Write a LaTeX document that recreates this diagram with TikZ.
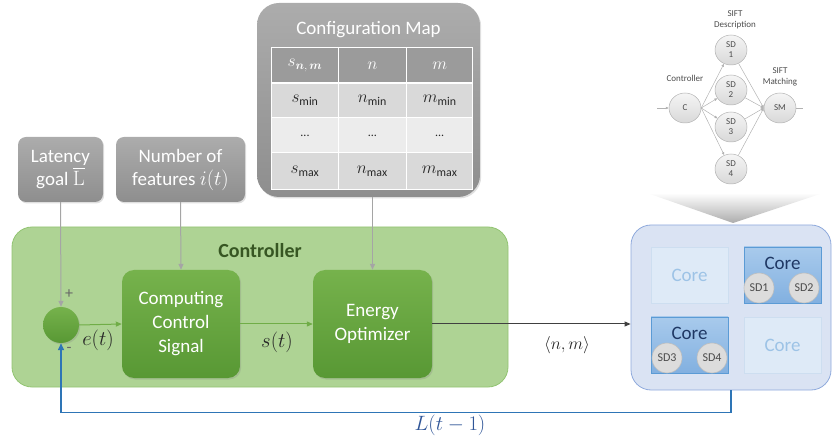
\documentclass[tikz,border=0pt]{standalone}
\usepackage[no-math]{fontspec}
\setmainfont{Carlito}
\usepackage{amsmath,bm}
\usetikzlibrary{shapes.geometric,arrows.meta,shadows}

\definecolor{grayA}{RGB}{172,172,172}
\definecolor{grayB}{RGB}{142,142,142}
\definecolor{hdrgray}{RGB}{155,155,155}
\definecolor{rowA}{RGB}{217,217,217}
\definecolor{rowB}{RGB}{236,236,236}
\definecolor{ctrlfill}{RGB}{174,211,148}
\definecolor{ctrldraw}{RGB}{146,196,114}
\definecolor{ctrltitle}{RGB}{55,86,35}
\definecolor{greenA}{RGB}{118,178,76}
\definecolor{greenB}{RGB}{88,152,52}
\definecolor{greenline}{RGB}{112,173,71}
\definecolor{linegray}{RGB}{165,165,165}
\definecolor{corefill}{RGB}{218,227,243}
\definecolor{coredraw}{RGB}{143,170,220}
\definecolor{faintfill}{RGB}{222,234,247}
\definecolor{faintdraw}{RGB}{205,222,240}
\definecolor{fainttext}{RGB}{157,195,230}
\definecolor{actA}{RGB}{168,202,236}
\definecolor{actB}{RGB}{130,176,224}
\definecolor{actdraw}{RGB}{91,155,213}
\definecolor{acttext}{RGB}{31,56,100}
\definecolor{sdfill}{RGB}{220,220,220}
\definecolor{sddraw}{RGB}{190,190,190}
\definecolor{fbblue}{RGB}{46,117,182}
\definecolor{fbtext}{RGB}{47,85,151}

\begin{document}
\begin{tikzpicture}[x=1pt,y=-1pt,
  softshadow/.style={drop shadow={opacity=0.25,shadow xshift=1.2pt,shadow yshift=-1.5pt}},
  graybox/.style={rounded corners=8pt, top color=grayA, bottom color=grayB, draw=none,
    text=white, align=center, inner sep=0pt, softshadow,
    font=\fontsize{19}{23}\selectfont},
  cfgbox/.style={rounded corners=22pt, top color=grayA, bottom color=grayB, draw=none,
    inner sep=0pt, softshadow},
  cell/.style={font=\fontsize{17}{19}\selectfont, text=black!85, inner sep=0pt},
  hcell/.style={font=\fontsize{17}{19}\selectfont, text=white, inner sep=0pt},
  ctrlbox/.style={rounded corners=20pt, fill=ctrlfill, draw=ctrldraw, line width=0.8pt, inner sep=0pt},
  greenbox/.style={rounded corners=12pt, top color=greenA, bottom color=greenB, draw=none,
    text=white, align=center, inner sep=0pt, softshadow,
    font=\fontsize{19}{24}\selectfont},
  sumnode/.style={circle, minimum size=36pt, top color=greenA, bottom color=greenB, draw=none, softshadow, inner sep=0pt},
  corebox/.style={rounded corners=20pt, fill=corefill, draw=coredraw, line width=0.8pt, inner sep=0pt},
  corefaint/.style={fill=faintfill, draw=faintdraw, line width=0.6pt, text=fainttext,
    minimum width=77pt, minimum height=56pt, inner sep=0pt, font=\fontsize{19}{23}\selectfont},
  coreact/.style={top color=actA, bottom color=actB, draw=actdraw, line width=0.7pt,
    minimum width=77pt, minimum height=56pt, inner sep=0pt},
  coretext/.style={text=acttext, font=\fontsize{19}{23}\selectfont, inner sep=0pt},
  sdnode/.style={circle, minimum size=30pt, fill=sdfill, draw=sddraw, line width=0.6pt,
    text=black!70, font=\fontsize{12}{14}\selectfont, inner sep=0pt},
  siftnode/.style={ellipse, minimum width=32pt, minimum height=30pt, top color=gray!8, bottom color=gray!30,
    draw=gray!60, line width=0.5pt, text=black!70, align=center, inner sep=0pt,
    font=\fontsize{9}{10}\selectfont},
  siftlabel/.style={text=black!70, align=center, inner sep=0pt, font=\fontsize{9}{10.5}\selectfont},
  siftedge/.style={draw=gray!60, line width=0.5pt, -{Triangle[length=3pt,width=2.5pt]}},
  inarrow/.style={draw=linegray, line width=1pt, -{Triangle[length=6pt,width=5pt]}},
  greenarrow/.style={draw=greenline, line width=1pt, -{Triangle[length=6pt,width=5pt]}},
  darkarrow/.style={draw=black!75, line width=1pt, -{Triangle[length=6pt,width=5pt]}},
  fbarrow/.style={draw=fbblue, line width=1.3pt, -{Triangle[length=7pt,width=6pt]}},
  mathlabel/.style={font=\fontsize{21}{25}\selectfont, text=black!85, inner sep=0pt},
  signlabel/.style={text=black!60, inner sep=0pt, font=\fontsize{16}{18}\selectfont},
]
\useasboundingbox (0,0) rectangle (832,443);

% ---- inputs: latency goal and number of features
\node[graybox, minimum width=85pt, minimum height=65pt] (lat) at (60.5,169.5)
  {Latency\\goal {\fontsize{21}{23}\selectfont$\overline{\mathrm{L}}$}};
\node[graybox, minimum width=129pt, minimum height=65pt] (feat) at (180.5,169.5)
  {Number of\\features {\fontsize{21}{23}\selectfont$i(t)$}};

% ---- configuration map with its table
\node[cfgbox, minimum width=223pt, minimum height=194pt] (cfg) at (368.5,100) {};
\node[text=white, inner sep=0pt, font=\fontsize{19}{23}\selectfont] (cfgtitle) at (368.5,30) {Configuration Map};
\fill[hdrgray] (271.7,47.7) rectangle (472.7,83);
\fill[rowA] (271.7,83) rectangle (472.7,118);
\fill[rowB] (271.7,118) rectangle (472.7,153);
\fill[rowA] (271.7,153) rectangle (472.7,190);
\draw[white, line width=1pt] (271.7,47.7) rectangle (472.7,190);
\draw[white, line width=2pt] (271.7,83) -- (472.7,83);
\draw[white, line width=1pt] (271.7,118) -- (472.7,118) (271.7,153) -- (472.7,153)
  (338,47.7) -- (338,190) (406.7,47.7) -- (406.7,190);
\node[hcell] (h1) at (305,65.5) {$s_{\bm{n},\,\bm{m}}$};
\node[hcell] (h2) at (372.3,65.5) {$n$};
\node[hcell] (h3) at (439.7,65.5) {$m$};
\node[cell] (r11) at (305,100.5) {$s_{\text{min}}$};
\node[cell] (r12) at (372.3,100.5) {$n_{\text{min}}$};
\node[cell] (r13) at (439.7,100.5) {$m_{\text{min}}$};
\node[cell] (r21) at (305,135.5) {\fontsize{12}{14}\selectfont ...};
\node[cell] (r22) at (372.3,135.5) {\fontsize{12}{14}\selectfont ...};
\node[cell] (r23) at (439.7,135.5) {\fontsize{12}{14}\selectfont ...};
\node[cell] (r31) at (305,171.5) {$s_{\text{max}}$};
\node[cell] (r32) at (372.3,171.5) {$n_{\text{max}}$};
\node[cell] (r33) at (439.7,171.5) {$m_{\text{max}}$};

% ---- controller
\node[ctrlbox, minimum width=496pt, minimum height=160pt] (ctrl) at (260,307) {};
\node[text=ctrltitle, inner sep=0pt, font=\fontsize{20}{24}\selectfont\bfseries] (ctrltitle) at (260,251) {Controller};
\node[sumnode] (sum) at (61,325) {};
\node[greenbox, minimum width=118pt, minimum height=108pt] (comp) at (181,324) {Computing\\Control\\Signal};
\node[greenbox, minimum width=119pt, minimum height=108pt] (energy) at (372.5,324) {Energy\\Optimizer};
\node[signlabel] (plus) at (69,294) {+};
\node[signlabel] (minus) at (69,350) {-};
\node[mathlabel] (et) at (98,340) {$e(t)$};
\node[mathlabel] (st) at (277,342) {$s(t)$};

% ---- multicore platform
\node[corebox, minimum width=200pt, minimum height=165pt] (cores) at (731,307.5) {};
\node[corefaint] (c1) at (689.5,275) {Core};
\node[coreact] (c2) at (782.5,275) {};
\node[coretext] (c2t) at (782.5,263) {Core};
\node[sdnode] (p1) at (759,288) {SD1};
\node[sdnode] (p2) at (804,288) {SD2};
\node[coreact] (c3) at (689.5,345) {};
\node[coretext] (c3t) at (689.5,333) {Core};
\node[sdnode] (p3) at (667,358) {SD3};
\node[sdnode] (p4) at (712,358) {SD4};
\node[corefaint] (c4) at (782.5,345) {Core};

% ---- funnel from the task graph down to the platform
\shade[top color=white, bottom color=gray!65] (647,193) -- (823,193) -- (733,223) -- cycle;

% ---- SIFT task graph
\node[siftnode] (C) at (685,108) {C};
\node[siftnode] (S1) at (731,50) {SD\\1};
\node[siftnode] (S2) at (731,90) {SD\\2};
\node[siftnode] (S3) at (731,127) {SD\\3};
\node[siftnode] (S4) at (731,169) {SD\\4};
\node[siftnode] (SM) at (780,108) {SM};
\node[siftlabel] (lsd) at (735,20) {SIFT\\Description};
\node[siftlabel] (lc) at (685,78) {Controller};
\node[siftlabel] (lsm) at (780,77) {SIFT\\Matching};
\coordinate (cin) at (657,108);
\coordinate (cout) at (803,108);
\draw[siftedge] (cin) -- (C);
\foreach \k in {1,2,3,4} {
  \draw[siftedge] (C.east) -- (S\k);
  \draw[siftedge] (S\k) -- (SM.west);
}
\draw[gray!60, line width=0.5pt] (SM) -- (cout);

% ---- connectors
\draw[inarrow] (lat.south) -- (sum.north);
\draw[inarrow] (feat.south) -- (comp.north);
\draw[inarrow] (energy.north |- cfg.south) -- (energy.north);
\draw[greenarrow] (sum.east) -- (comp.west);
\draw[greenarrow] (comp.east) -- (energy.west);
\draw[darkarrow] (energy.east) -- (energy.east -| cores.west);
\node[font=\fontsize{18}{21}\selectfont, text=black!85, inner sep=0pt] (nm) at (567,345) {$\langle n, m\rangle$};
\draw[fbarrow] (cores.south) -- ++(0,22) -| (sum.south);
\node[font=\fontsize{21}{25}\selectfont, text=fbtext, inner sep=0pt] (lt) at (450,425) {$L(t-1)$};
\end{tikzpicture}
\end{document}
